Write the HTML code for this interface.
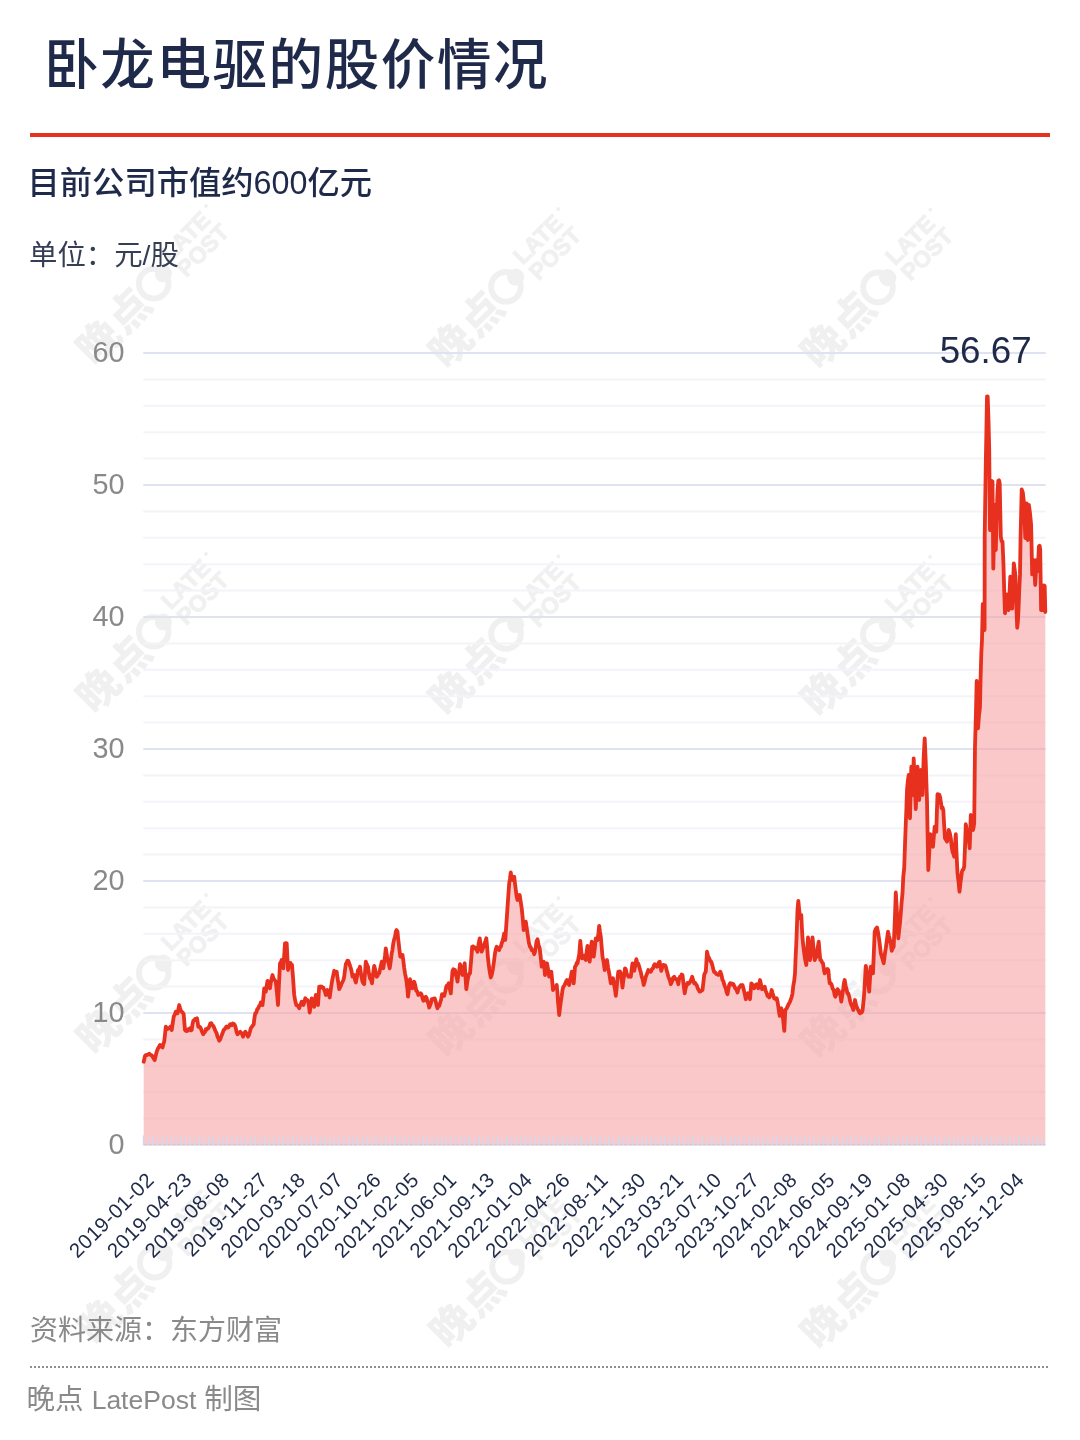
<!DOCTYPE html>
<html lang="zh-CN">
<head>
<meta charset="utf-8">
<title>卧龙电驱的股价情况</title>
<style>
html,body{margin:0;padding:0;background:#fff;}
body{width:1080px;height:1440px;position:relative;overflow:hidden;font-family:"Liberation Sans","Noto Sans CJK SC",sans-serif;}
.abs{position:absolute;white-space:nowrap;line-height:1;}
#title{left:44.2px;top:39px;font-size:54.5px;font-weight:500;color:#1f2a4a;letter-spacing:1.6px;}
#rule{left:30px;top:133px;width:1020px;height:4px;background:#e8301f;}
#sub{left:27.5px;top:167px;font-size:32.3px;font-weight:500;color:#1f2a4a;}
#unit{left:29px;top:241px;font-size:28.4px;color:#353e55;}
#src{left:30px;top:1317px;font-size:28px;color:#8a8a8a;}
#dots{left:30px;top:1366px;width:1020px;height:2px;background:repeating-linear-gradient(to right,#8e8e8e 0,#8e8e8e 2px,transparent 2px,transparent 4px);}
#credit{left:26.5px;top:1385px;font-size:28.6px;color:#8a8a8a;}
svg{position:absolute;left:0;top:0;}
svg text{font-family:"Liberation Sans","Noto Sans CJK SC",sans-serif;}
.yl{font-size:28.8px;fill:#898989;}
.xl{font-size:20.5px;fill:#1f2a4a;letter-spacing:0.5px;}
.vl{font-size:36.8px;fill:#1f2a4a;}
.wc{font-size:42px;font-weight:900;fill:#000;letter-spacing:1.5px;}
.wl{font-size:23px;font-weight:700;fill:#000;stroke:#000;stroke-width:1.2px;}
.lp{font-size:26.5px;}
#wm{opacity:0.055;}
</style>
</head>
<body>
<svg id="wm" width="1080" height="1440" viewBox="0 0 1080 1440">
<g transform="translate(153.7 283.6) rotate(-45)"><text transform="translate(-101 17)" class="wc">晚点</text><circle r="14.8" fill="none" stroke="#000" stroke-width="6"/><circle cx="13.7" cy="0" r="8.6" fill="#000"/><text x="27" y="-3" class="wl">LATE</text><circle cx="92" cy="-18" r="2" fill="#000"/><text x="27" y="19" class="wl">POST</text></g>
<g transform="translate(505.9 286.8) rotate(-45)"><text transform="translate(-101 17)" class="wc">晚点</text><circle r="14.8" fill="none" stroke="#000" stroke-width="6"/><circle cx="13.7" cy="0" r="8.6" fill="#000"/><text x="27" y="-3" class="wl">LATE</text><circle cx="92" cy="-18" r="2" fill="#000"/><text x="27" y="19" class="wl">POST</text></g>
<g transform="translate(878 287.4) rotate(-45)"><text transform="translate(-101 17)" class="wc">晚点</text><circle r="14.8" fill="none" stroke="#000" stroke-width="6"/><circle cx="13.7" cy="0" r="8.6" fill="#000"/><text x="27" y="-3" class="wl">LATE</text><circle cx="92" cy="-18" r="2" fill="#000"/><text x="27" y="19" class="wl">POST</text></g>
<g transform="translate(153.7 631.7) rotate(-45)"><text transform="translate(-101 17)" class="wc">晚点</text><circle r="14.8" fill="none" stroke="#000" stroke-width="6"/><circle cx="13.7" cy="0" r="8.6" fill="#000"/><text x="27" y="-3" class="wl">LATE</text><circle cx="92" cy="-18" r="2" fill="#000"/><text x="27" y="19" class="wl">POST</text></g>
<g transform="translate(506 634) rotate(-45)"><text transform="translate(-101 17)" class="wc">晚点</text><circle r="14.8" fill="none" stroke="#000" stroke-width="6"/><circle cx="13.7" cy="0" r="8.6" fill="#000"/><text x="27" y="-3" class="wl">LATE</text><circle cx="92" cy="-18" r="2" fill="#000"/><text x="27" y="19" class="wl">POST</text></g>
<g transform="translate(877.8 634.7) rotate(-45)"><text transform="translate(-101 17)" class="wc">晚点</text><circle r="14.8" fill="none" stroke="#000" stroke-width="6"/><circle cx="13.7" cy="0" r="8.6" fill="#000"/><text x="27" y="-3" class="wl">LATE</text><circle cx="92" cy="-18" r="2" fill="#000"/><text x="27" y="19" class="wl">POST</text></g>
<g transform="translate(153.7 972.9) rotate(-45)"><text transform="translate(-101 17)" class="wc">晚点</text><circle r="14.8" fill="none" stroke="#000" stroke-width="6"/><circle cx="13.7" cy="0" r="8.6" fill="#000"/><text x="27" y="-3" class="wl">LATE</text><circle cx="92" cy="-18" r="2" fill="#000"/><text x="27" y="19" class="wl">POST</text></g>
<g transform="translate(506 976) rotate(-45)"><text transform="translate(-101 17)" class="wc">晚点</text><circle r="14.8" fill="none" stroke="#000" stroke-width="6"/><circle cx="13.7" cy="0" r="8.6" fill="#000"/><text x="27" y="-3" class="wl">LATE</text><circle cx="92" cy="-18" r="2" fill="#000"/><text x="27" y="19" class="wl">POST</text></g>
<g transform="translate(878 977) rotate(-45)"><text transform="translate(-101 17)" class="wc">晚点</text><circle r="14.8" fill="none" stroke="#000" stroke-width="6"/><circle cx="13.7" cy="0" r="8.6" fill="#000"/><text x="27" y="-3" class="wl">LATE</text><circle cx="92" cy="-18" r="2" fill="#000"/><text x="27" y="19" class="wl">POST</text></g>
<g transform="translate(154.7 1262.7) rotate(-45)"><text transform="translate(-101 17)" class="wc">晚点</text><circle r="14.8" fill="none" stroke="#000" stroke-width="6"/><circle cx="13.7" cy="0" r="8.6" fill="#000"/><text x="27" y="-3" class="wl">LATE</text><circle cx="92" cy="-18" r="2" fill="#000"/><text x="27" y="19" class="wl">POST</text></g>
<g transform="translate(507 1266.8) rotate(-45)"><text transform="translate(-101 17)" class="wc">晚点</text><circle r="14.8" fill="none" stroke="#000" stroke-width="6"/><circle cx="13.7" cy="0" r="8.6" fill="#000"/><text x="27" y="-3" class="wl">LATE</text><circle cx="92" cy="-18" r="2" fill="#000"/><text x="27" y="19" class="wl">POST</text></g>
<g transform="translate(878 1267.5) rotate(-45)"><text transform="translate(-101 17)" class="wc">晚点</text><circle r="14.8" fill="none" stroke="#000" stroke-width="6"/><circle cx="13.7" cy="0" r="8.6" fill="#000"/><text x="27" y="-3" class="wl">LATE</text><circle cx="92" cy="-18" r="2" fill="#000"/><text x="27" y="19" class="wl">POST</text></g>
</svg>
<div id="title" class="abs">卧龙电驱的股价情况</div>
<div id="rule" class="abs"></div>
<div id="sub" class="abs">目前公司市值约600亿元</div>
<div id="unit" class="abs">单位：元/股</div>
<svg id="chart" width="1080" height="1440" viewBox="0 0 1080 1440">
<line x1="143.3" x2="1045.7" y1="1145" y2="1145" stroke="#dee2f1" stroke-width="2"/>
<line x1="143.3" x2="1045.7" y1="1118.6" y2="1118.6" stroke="#f3f4fa" stroke-width="2"/>
<line x1="143.3" x2="1045.7" y1="1092.2" y2="1092.2" stroke="#f3f4fa" stroke-width="2"/>
<line x1="143.3" x2="1045.7" y1="1065.8" y2="1065.8" stroke="#f3f4fa" stroke-width="2"/>
<line x1="143.3" x2="1045.7" y1="1039.4" y2="1039.4" stroke="#f3f4fa" stroke-width="2"/>
<line x1="143.3" x2="1045.7" y1="1013" y2="1013" stroke="#dee2f1" stroke-width="2"/>
<line x1="143.3" x2="1045.7" y1="986.6" y2="986.6" stroke="#f3f4fa" stroke-width="2"/>
<line x1="143.3" x2="1045.7" y1="960.2" y2="960.2" stroke="#f3f4fa" stroke-width="2"/>
<line x1="143.3" x2="1045.7" y1="933.8" y2="933.8" stroke="#f3f4fa" stroke-width="2"/>
<line x1="143.3" x2="1045.7" y1="907.4" y2="907.4" stroke="#f3f4fa" stroke-width="2"/>
<line x1="143.3" x2="1045.7" y1="881" y2="881" stroke="#dee2f1" stroke-width="2"/>
<line x1="143.3" x2="1045.7" y1="854.6" y2="854.6" stroke="#f3f4fa" stroke-width="2"/>
<line x1="143.3" x2="1045.7" y1="828.2" y2="828.2" stroke="#f3f4fa" stroke-width="2"/>
<line x1="143.3" x2="1045.7" y1="801.8" y2="801.8" stroke="#f3f4fa" stroke-width="2"/>
<line x1="143.3" x2="1045.7" y1="775.4" y2="775.4" stroke="#f3f4fa" stroke-width="2"/>
<line x1="143.3" x2="1045.7" y1="749" y2="749" stroke="#dee2f1" stroke-width="2"/>
<line x1="143.3" x2="1045.7" y1="722.6" y2="722.6" stroke="#f3f4fa" stroke-width="2"/>
<line x1="143.3" x2="1045.7" y1="696.2" y2="696.2" stroke="#f3f4fa" stroke-width="2"/>
<line x1="143.3" x2="1045.7" y1="669.8" y2="669.8" stroke="#f3f4fa" stroke-width="2"/>
<line x1="143.3" x2="1045.7" y1="643.4" y2="643.4" stroke="#f3f4fa" stroke-width="2"/>
<line x1="143.3" x2="1045.7" y1="617" y2="617" stroke="#dee2f1" stroke-width="2"/>
<line x1="143.3" x2="1045.7" y1="590.6" y2="590.6" stroke="#f3f4fa" stroke-width="2"/>
<line x1="143.3" x2="1045.7" y1="564.2" y2="564.2" stroke="#f3f4fa" stroke-width="2"/>
<line x1="143.3" x2="1045.7" y1="537.8" y2="537.8" stroke="#f3f4fa" stroke-width="2"/>
<line x1="143.3" x2="1045.7" y1="511.4" y2="511.4" stroke="#f3f4fa" stroke-width="2"/>
<line x1="143.3" x2="1045.7" y1="485" y2="485" stroke="#dee2f1" stroke-width="2"/>
<line x1="143.3" x2="1045.7" y1="458.6" y2="458.6" stroke="#f3f4fa" stroke-width="2"/>
<line x1="143.3" x2="1045.7" y1="432.2" y2="432.2" stroke="#f3f4fa" stroke-width="2"/>
<line x1="143.3" x2="1045.7" y1="405.8" y2="405.8" stroke="#f3f4fa" stroke-width="2"/>
<line x1="143.3" x2="1045.7" y1="379.4" y2="379.4" stroke="#f3f4fa" stroke-width="2"/>
<line x1="143.3" x2="1045.7" y1="353" y2="353" stroke="#dee2f1" stroke-width="2"/>
<text x="124.5" y="1154" text-anchor="end" class="yl">0</text>
<text x="124.5" y="1022" text-anchor="end" class="yl">10</text>
<text x="124.5" y="890" text-anchor="end" class="yl">20</text>
<text x="124.5" y="758" text-anchor="end" class="yl">30</text>
<text x="124.5" y="626" text-anchor="end" class="yl">40</text>
<text x="124.5" y="494" text-anchor="end" class="yl">50</text>
<text x="124.5" y="362" text-anchor="end" class="yl">60</text>
<path d="M143.7 1061.7 L144.3 1059.1 L145 1055.8 L146.1 1054.8 L147.2 1055.1 L148.3 1054.2 L149.4 1053.7 L150.6 1055 L151.7 1055.3 L152.7 1056.8 L153.7 1058.7 L154.7 1060 L155.7 1055.6 L156.7 1051.7 L157.8 1048.9 L158.9 1046.9 L160 1045 L160.8 1046.6 L161.7 1045.9 L162.5 1047.5 L163.3 1044.1 L164.2 1041.7 L165 1034.6 L165.8 1026.7 L166.6 1028 L167.5 1029 L168.3 1028.3 L169.3 1028.2 L170.3 1026.7 L171 1028.3 L171.7 1030 L172.7 1023.4 L173.7 1016.7 L174.8 1014.5 L175.8 1011.7 L176.7 1011.8 L177.5 1013.3 L178.3 1009.7 L179.2 1005 L180 1007.8 L180.9 1010.7 L181.7 1011.7 L182.7 1012.5 L183.7 1014.2 L184.3 1022 L185 1030 L185.8 1030.8 L186.7 1031.1 L187.5 1030.8 L188.3 1029.2 L189.2 1029.2 L190 1028.3 L190.9 1030.4 L191.7 1030 L192.5 1024.3 L193.3 1020.8 L194.2 1020.4 L195.2 1018.9 L196.1 1019.1 L197 1018.3 L197.7 1022.5 L198.3 1026.7 L199.1 1027 L200 1027 L200.8 1028.3 L201.6 1030.6 L202.5 1032.8 L203.3 1034.2 L204.1 1032.1 L205 1032 L205.8 1029.2 L206.6 1029.7 L207.5 1028.3 L208.3 1028.3 L209.3 1026.3 L210.3 1023.3 L211.3 1023.2 L212.3 1025.2 L213.3 1025.8 L214.4 1028.4 L215.6 1031.3 L216.7 1033.3 L217.5 1036.8 L218.4 1038.1 L219.2 1040.8 L220.3 1039.1 L221.4 1036.1 L222.5 1033.3 L223.6 1030.2 L224.7 1029.1 L225.8 1027.5 L226.6 1026.5 L227.5 1027.7 L228.3 1027.5 L229.1 1026.1 L230 1024.4 L230.8 1024.2 L231.8 1025.2 L232.8 1023.5 L233.7 1023.8 L234.7 1025 L235.6 1027.3 L236.6 1032.1 L237.5 1034.2 L238.4 1033.5 L239.4 1032.5 L240.3 1031.7 L241.2 1033.1 L242.1 1034.1 L243 1036.7 L243.8 1034.9 L244.5 1032.9 L245.3 1031.7 L246.2 1033.1 L247.1 1034.1 L248 1036.7 L248.9 1035 L249.9 1031.8 L250.8 1028.3 L251.8 1026.8 L252.7 1025.7 L253.7 1024.2 L254.5 1017.5 L255.3 1013.3 L256.3 1012.8 L257.3 1009.1 L258.3 1008.3 L259.1 1006 L260 1005.1 L260.8 1002.5 L261.6 1004.3 L262.5 1005 L263.4 997.6 L264.2 988.3 L265 989.1 L265.8 991.7 L266.6 986.8 L267.5 980.8 L268.3 982 L269.2 987.2 L270 988.3 L270.8 982.5 L271.7 978.5 L272.5 975 L273.6 978.7 L274.7 980 L275.8 981.7 L276.9 992.1 L278 1005 L279 983.4 L280 963.3 L280.9 962.1 L281.7 960 L282.5 963.1 L283.3 968.3 L284.1 957 L285 943.3 L285.9 943.1 L286.7 943.3 L287.4 957.7 L288 970 L288.9 966.6 L289.7 963.3 L290.5 962.9 L291.2 965.3 L292 965 L293.1 978.6 L294.2 995 L295.2 1000.8 L296.3 1005 L297.3 1005.6 L298.2 1006.2 L299.2 1008.3 L300 1005.4 L300.9 1003.8 L301.7 1001.7 L302.5 1002.7 L303.3 1005 L304.3 1002.3 L305.3 998.3 L306.3 1000 L307.3 1000 L308.3 1001.7 L309 1006.3 L309.7 1012.5 L310.7 1005.9 L311.7 998.3 L312.5 1001.4 L313.4 1004.9 L314.2 1006.7 L315 1000.1 L315.8 995 L316.9 999 L318 1005 L318.6 996 L319.2 986.7 L320 988.1 L320.9 986.5 L321.7 986.7 L322.5 987.5 L323.4 987.7 L324.2 990 L325 991.9 L325.8 995 L326.6 993.1 L327.5 990 L328.6 993 L329.7 997.5 L330.7 990 L331.7 983.3 L332.5 978.9 L333.4 974.6 L334.2 970.8 L335 971.9 L335.9 972.6 L336.7 971.7 L337.5 977.9 L338.4 983.3 L339.2 989.2 L340 987.4 L340.9 985.6 L341.7 983.3 L342.5 981.8 L343.4 980 L344.2 976.7 L345 970.2 L345.8 964.2 L346.6 962.6 L347.5 960.6 L348.3 960.8 L349.1 963.1 L350 965.7 L350.8 968.3 L351.6 971.5 L352.5 976.7 L353.4 976.3 L354.2 975 L355 980 L355.8 982.5 L356.9 977.1 L358 970 L359 969.7 L360 966.7 L360.8 972.9 L361.7 977.9 L362.5 981.7 L363.4 983.4 L364.2 984.2 L365 972.9 L365.8 961.7 L366.9 964.6 L368 966.7 L369 973.9 L370 978.3 L371 979.5 L372 983.3 L373.1 973.2 L374.2 965.8 L375 968.9 L375.9 973.4 L376.7 976.7 L377.5 976 L378.4 973.3 L379.2 973.3 L380 969.7 L380.9 965.8 L381.7 961.7 L382.5 965.6 L383.3 968.3 L384.1 962.8 L385 956 L385.8 948.3 L386.6 953.5 L387.5 960 L388.6 963 L389.7 968.3 L390.7 961.5 L391.7 953.3 L392.5 949.6 L393.3 943.3 L394.1 939.7 L395 936.9 L395.8 931.7 L396.6 930.1 L397.5 931.7 L398.1 938.3 L398.7 943.3 L399.5 950.4 L400.3 956.7 L401.4 956.9 L402.5 955 L403.3 960.6 L404.2 968.1 L405 973.3 L405.9 977.6 L406.7 983.3 L407.4 988.7 L408 996.7 L409 989 L410 979.2 L410.8 982.7 L411.7 986.1 L412.5 988.3 L413.4 983.9 L414.2 981.7 L415.2 985 L416.3 990.8 L417.3 991.6 L418.3 995 L419.1 993.8 L420 994.2 L420.8 993.3 L421.6 994.6 L422.5 998.2 L423.3 1000.8 L424.1 1000.5 L425 997.4 L425.8 996.7 L426.6 998 L427.5 1001.7 L428.4 1003.6 L429.2 1007.5 L430 1005.5 L430.9 1003.1 L431.7 999.2 L432.7 999.8 L433.7 998.5 L434.7 998.3 L435.6 1001 L436.6 1005.7 L437.5 1008.3 L438.3 1005.7 L439.2 1005.9 L440 1003.3 L441 1000 L442 994.2 L443.1 994.7 L444.2 995.8 L445.2 991.9 L446.3 986.7 L447.1 985.3 L447.9 985.2 L448.7 983.3 L449.8 988.8 L450.8 993.3 L451.6 981.9 L452.5 970.8 L453.3 969.3 L454.2 971.5 L455 970 L455.8 974.9 L456.7 977.2 L457.5 981.7 L458.3 975.1 L459.2 970.9 L460 964.2 L460.8 967.5 L461.7 971.8 L462.5 975 L463.6 968.1 L464.7 963.3 L465.5 977.5 L466.3 989.2 L467.3 981.9 L468.3 976.7 L469.1 973.9 L470 973.3 L471.1 960.7 L472.2 946.7 L473.1 946.4 L474.1 948.3 L475 947.5 L475.8 948.8 L476.7 949.7 L477.5 951.7 L478.6 943.9 L479.7 938.3 L480.7 945.7 L481.7 951.7 L482.7 948.8 L483.7 946.7 L484.6 943.3 L485.4 941.6 L486.3 938.3 L487.1 946.8 L488 958.3 L488.9 966.1 L489.7 971.7 L490.8 977.5 L491.9 974.1 L493 968.3 L494 961.2 L495 953.3 L495.9 948.9 L496.7 946.7 L497.5 948.7 L498.4 948 L499.2 950 L500 947.1 L500.9 946.6 L501.7 943.3 L502.5 941.2 L503.4 937.4 L504.2 933.3 L505.3 940 L506.1 927.8 L507 915 L508.1 898.8 L509.2 883.3 L510 878.5 L510.8 872.5 L511.6 877.9 L512.5 880 L513.4 877.6 L514.2 876.7 L515 883.6 L515.8 890 L516.6 896.2 L517.5 900 L518.6 898.4 L519.7 895 L520.7 901.7 L521.7 908.3 L522.7 918.1 L523.7 930 L524.8 926.6 L525.8 921.7 L526.9 929.2 L528 936.7 L529 943.2 L530 946.7 L530.8 947.4 L531.7 950.3 L532.5 950 L533.4 951.3 L534.2 954.2 L535 951.7 L535.8 946.7 L536.6 941.4 L537.5 939.2 L538.6 945.2 L539.7 948.3 L540.7 957.3 L541.7 966.7 L542.7 962.9 L543.7 961.7 L544.4 968.1 L545 975 L546 968 L547 963.3 L548.1 969.4 L549.2 976.7 L550.2 973 L551.3 971.7 L552.1 979.7 L553 990 L554 987.3 L555 986.7 L555.9 986.4 L556.7 985 L557.4 992.1 L558 1001.7 L558.6 1007.8 L559.2 1015 L560 1008.1 L560.8 1001.7 L561.6 996.7 L562.5 990 L563.3 986.7 L564.2 985.7 L565 984.2 L566 981.6 L567 980 L568.1 982.9 L569.2 985 L570 979.7 L570.9 976.7 L571.7 971.7 L572.7 977.6 L573.7 983.3 L574.4 975.1 L575 966.7 L575.8 965.8 L576.7 963 L577.5 963.3 L578.4 958.5 L579.2 955 L580.3 940.8 L581.1 949.6 L582 958.3 L583.1 957 L584.2 955.8 L585 958.9 L585.8 960 L586.6 952.2 L587.5 945.8 L588.6 955.1 L589.7 961.7 L590.7 950.7 L591.7 941.7 L592.7 948.5 L593.7 956.7 L594.8 948.3 L595.8 938.3 L596.6 938.4 L597.5 940 L598.4 933.2 L599.2 925.8 L600 931.8 L600.8 936.7 L601.6 946.2 L602.5 956.7 L603.6 962.2 L604.7 970 L605.9 966.2 L607 960 L608.1 967.5 L609.2 973.3 L610 978.2 L610.8 983.3 L611.9 981.6 L613 978.3 L613.9 983.9 L614.9 988.8 L615.8 995.8 L616.6 988.6 L617.5 978.8 L618.3 971.7 L619.1 972.9 L620 971.4 L620.8 973.3 L621.6 979.7 L622.5 987.5 L623.3 980.7 L624.2 975.6 L625 968.3 L625.8 969.2 L626.7 973.6 L627.5 975 L628.6 976.8 L629.7 976.4 L630.8 976.7 L631.6 969.7 L632.5 963.3 L633.4 968.1 L634.2 970.8 L635.2 965.9 L636.3 959.2 L637.3 963.2 L638.2 963.6 L639.2 966.7 L640 969.6 L640.9 972.6 L641.7 976.7 L642.7 979.7 L643.7 985 L644.8 981.2 L645.8 976.7 L646.6 974.8 L647.5 972.5 L648.3 970 L649.1 971.6 L650 971 L650.8 971.7 L651.9 969.2 L653 968.3 L653.9 965.5 L654.7 964.2 L655.9 965.5 L657 966.7 L657.9 964.4 L658.8 962.6 L659.7 961.7 L660.5 966.8 L661.3 970.8 L662.3 967.2 L663.3 965 L664.1 965.1 L665 965.3 L665.8 966.7 L666.6 970.3 L667.5 973.1 L668.3 976.7 L669.1 978.5 L670 980.9 L670.8 984.2 L671.9 982 L673.1 977.9 L674.2 976.7 L675 978.5 L675.9 979.3 L676.7 979.2 L677.5 981.1 L678.3 984.2 L679.1 979.1 L680 976.7 L680.8 976.9 L681.7 974.5 L682.5 975 L683.6 984.9 L684.7 993.3 L685.7 987.8 L686.7 985 L687.5 983 L688.4 983.8 L689.2 983.3 L690.2 981.8 L691.2 979.6 L692.2 976.7 L693.2 980.5 L694.2 983.3 L695 982.7 L695.9 984.4 L696.7 985 L697.7 988.3 L698.7 990 L699.7 991.7 L700.6 991.5 L701.6 990.5 L702.5 990 L703.4 982.3 L704.2 975 L705 972.9 L705.8 971.7 L706.4 961.8 L707 951.7 L708.1 956.4 L709.2 958.3 L710.2 960.9 L711.3 961.7 L712.3 965.1 L713.3 969.2 L714.1 971.9 L715 972.3 L715.8 973.3 L716.6 974.2 L717.5 974.5 L718.3 975 L719.3 973.6 L720.3 971.7 L721.4 974.7 L722.5 980 L723.3 981.1 L724.2 984.5 L725 986.7 L725.8 988.4 L726.7 992.5 L727.5 994.2 L728.4 989.1 L729.2 985 L730.2 983.2 L731.3 983.3 L732.3 984.7 L733.2 984 L734.2 985.8 L735.3 988.4 L736.4 989.5 L737.5 992.5 L738.3 989.3 L739.2 987.2 L740 986.7 L740.8 985.2 L741.7 986.3 L742.5 985 L743.4 988.2 L744.2 991.7 L745 995.2 L745.8 999.2 L746.9 995.5 L748 993.3 L749 995.6 L750 999.2 L750.6 991.8 L751.3 983.3 L752.3 984.5 L753.2 985.4 L754.2 988.3 L755 986.2 L755.9 984.8 L756.7 984.2 L757.5 986.5 L758.3 988.3 L759.1 985.2 L760 980 L761 984.5 L762 989.2 L762.9 988.5 L763.8 988.2 L764.7 986.7 L765.7 991 L766.7 993.3 L767.5 995.9 L768.4 996.3 L769.2 997.5 L770 996.3 L770.9 993.2 L771.7 990 L772.5 993 L773.4 995.8 L774.2 998.3 L775 998.2 L775.9 999.4 L776.7 998.3 L777.5 1001.4 L778.3 1006.7 L779 1011.8 L779.7 1015.8 L780.5 1011 L781.3 1008.3 L782.1 1012.7 L783 1018.3 L783.6 1024.2 L784.3 1030.8 L785.3 1010 L786.4 1008.8 L787.5 1006.7 L788.3 1004.7 L789.2 1003.1 L790 1001.7 L790.8 999.5 L791.7 996.9 L792.5 993.3 L793.3 985.8 L794.2 980.9 L795 973.3 L795.6 957.5 L796.3 943.3 L796.9 927.3 L797.5 910 L798.3 900.8 L799.1 908.9 L800 918.3 L800.6 917.5 L801.3 915 L801.9 927.8 L802.5 938.3 L803.4 946.9 L804.2 953.3 L805.2 959.9 L806.3 965 L807.1 951.7 L808 937.5 L809 947.4 L810 960 L810.8 953.3 L811.7 944.1 L812.5 937.5 L813.6 949.2 L814.7 960 L815.7 957.2 L816.7 956.7 L817.7 947.7 L818.7 941.7 L819.5 951.7 L820.3 960 L821.2 960.3 L822.1 962.4 L823 963.3 L823.9 969.6 L824.7 973.3 L825.5 970.5 L826.3 970 L827.3 968.9 L828.3 970 L829 977.5 L829.7 983.3 L830.7 983.1 L831.7 985 L832.7 988.8 L833.7 990 L834.5 994.5 L835.3 996.7 L836.4 994 L837.5 989.2 L838.6 990.6 L839.7 993.3 L840.5 996.2 L841.3 1001.7 L842.3 994.9 L843.3 988.3 L844 982.8 L844.7 980 L845.7 985.9 L846.7 990 L847.5 993.6 L848.4 993.6 L849.2 996.7 L850.2 1001.5 L851.3 1005 L852.3 1006.8 L853.3 1010 L854.1 1005.4 L855 1000 L856 1004.9 L857 1007.5 L858 1009.8 L859 1012.1 L860 1013.3 L860.8 1011.4 L861.7 1012.6 L862.5 1010.8 L863.4 1002.6 L864.2 993.3 L865 979.7 L865.8 965.8 L866.6 970.2 L867.5 976.7 L868.4 984.2 L869.2 991.7 L870 978.8 L870.8 966.7 L871.9 970 L873 973.3 L873.9 951.7 L874.7 931.7 L875.9 928.8 L877 927.5 L878.1 932.7 L879.2 940 L880 946.3 L880.8 953.3 L881.8 956.6 L882.7 959.5 L883.7 963.3 L884.8 954.4 L885.8 948.3 L886.9 940.3 L888 931.7 L889 936.1 L890 940 L890.9 944 L891.7 950.8 L892.7 948.3 L893.7 946.7 L894.8 920.8 L895.8 892.5 L896.6 906.2 L897.5 922.3 L898.3 938.3 L899.1 930.6 L900 923.1 L900.8 913.3 L901.6 902.5 L902.5 893.3 L903.3 876.7 L904.2 868.3 L905 844.7 L905.8 823.3 L906.4 808.6 L907 790 L907.9 780.5 L908.7 775 L909.4 796.7 L910 818.3 L910.6 794.1 L911.3 766.7 L912.1 781.9 L913 795 L913.7 758.3 L914.8 785.6 L915.8 809.2 L916.6 788.2 L917.5 766.7 L918.4 784.2 L919.2 800 L920 782.8 L920.8 770 L921.6 780.8 L922.5 795 L923.1 775.9 L923.7 756.7 L924.7 738.3 L925.8 763.3 L926.4 783.1 L927 800 L927.6 834.9 L928.3 870 L929.3 851.6 L930.3 834.2 L931.2 838.7 L932.1 844.3 L933 846.7 L933.9 835.4 L934.7 826.7 L935.5 828.6 L936.3 831.7 L936.9 811.5 L937.5 794.2 L938.3 796.8 L939.2 794.6 L940 796.7 L940.9 802.3 L941.7 808.3 L942.5 807.3 L943.3 810 L944.1 824.3 L945 838.3 L946 839.9 L947 841.7 L947.9 837 L948.7 830 L949.8 833.1 L950.8 838.3 L951.6 846.1 L952.5 851.7 L953.4 853.9 L954.2 856.7 L955 845 L955.8 834.2 L956.6 855.1 L957.5 873.3 L958.5 881.8 L959.5 891.7 L960.4 883.3 L961.3 876.7 L961.9 871.8 L962.5 870 L963.4 869.6 L964.2 866.7 L965 847 L965.8 824.2 L966.6 829.1 L967.5 831.7 L968.6 838.3 L969.7 848.3 L970.8 815 L971.9 822.4 L973 830 L973.6 827.6 L974.2 823.3 L975 746.7 L975.9 714.5 L976.7 680.8 L977.4 706.3 L978 728.3 L979 715.5 L980 706.7 L980.6 677.8 L981.3 653.3 L982 640 L982.8 604 L983.7 619.5 L984.6 630 L984.7 536 L985.8 463 L986.4 430.9 L987 396.5 L987.7 396.5 L988.5 420.6 L989.2 448 L990 530 L990.6 508.9 L991.3 481.7 L991.9 481.1 L992.5 481.7 L993.3 568.5 L994 535.9 L994.7 505 L995.8 550 L996.4 527.2 L997 505 L997.6 489.9 L998.3 480.8 L999 480.3 L999.7 483.3 L1000.8 536.7 L1001.6 541.1 L1002.5 541.7 L1003.5 565 L1004.2 591.2 L1005 613.3 L1006 605.4 L1007 594.5 L1007.8 604.8 L1008.6 610 L1009.5 593.8 L1010.3 576.7 L1011.2 592.2 L1012.1 608.6 L1013 588.2 L1013.8 563.3 L1014.6 569.1 L1015.4 575.5 L1016.3 604.5 L1017.2 627.8 L1017.9 621.3 L1018.5 610 L1019.2 591.3 L1020 574.4 L1020.6 535.6 L1021.7 489.4 L1022.8 492.5 L1023.9 502 L1024.6 520.5 L1025.3 538 L1026 520.6 L1026.7 503.3 L1027.8 540 L1028.9 505 L1030 513.2 L1031.1 524.4 L1032.2 574.4 L1033.1 564.4 L1033.9 560 L1034.6 573.4 L1035.2 585 L1036 572 L1036.7 560 L1037.8 571 L1038.9 546.7 L1039.6 545.7 L1040.2 549 L1041.1 610 L1041.9 610 L1042.8 610 L1043.3 585.6 L1044 585.4 L1044.7 586 L1045.3 612 L1045.3 1145 L143.7 1145 Z" fill="rgba(247,163,163,0.6)" stroke="none"/>
<path d="M143.6 1145 v-9.5 M148.2 1145 v-6.7 M152.9 1145 v-9.5 M157.5 1145 v-6.7 M162.2 1145 v-9.5 M166.8 1145 v-6.7 M171.5 1145 v-9.5 M176.2 1145 v-6.7 M180.8 1145 v-9.5 M185.5 1145 v-6.7 M190.1 1145 v-9.5 M194.8 1145 v-6.7 M199.4 1145 v-9.5 M204.1 1145 v-6.7 M208.8 1145 v-9.5 M213.4 1145 v-6.7 M218.1 1145 v-9.5 M222.7 1145 v-6.7 M227.4 1145 v-9.5 M232 1145 v-6.7 M236.7 1145 v-9.5 M241.4 1145 v-6.7 M246 1145 v-9.5 M250.7 1145 v-6.7 M255.3 1145 v-9.5 M260 1145 v-6.7 M264.6 1145 v-9.5 M269.3 1145 v-6.7 M274 1145 v-9.5 M278.6 1145 v-6.7 M283.3 1145 v-9.5 M287.9 1145 v-6.7 M292.6 1145 v-9.5 M297.2 1145 v-6.7 M301.9 1145 v-9.5 M306.5 1145 v-6.7 M311.2 1145 v-9.5 M315.9 1145 v-6.7 M320.5 1145 v-9.5 M325.2 1145 v-6.7 M329.8 1145 v-9.5 M334.5 1145 v-6.7 M339.1 1145 v-9.5 M343.8 1145 v-6.7 M348.5 1145 v-9.5 M353.1 1145 v-6.7 M357.8 1145 v-9.5 M362.4 1145 v-6.7 M367.1 1145 v-9.5 M371.7 1145 v-6.7 M376.4 1145 v-9.5 M381.1 1145 v-6.7 M385.7 1145 v-9.5 M390.4 1145 v-6.7 M395 1145 v-9.5 M399.7 1145 v-6.7 M404.3 1145 v-9.5 M409 1145 v-6.7 M413.7 1145 v-9.5 M418.3 1145 v-6.7 M423 1145 v-9.5 M427.6 1145 v-6.7 M432.3 1145 v-9.5 M436.9 1145 v-6.7 M441.6 1145 v-9.5 M446.3 1145 v-6.7 M450.9 1145 v-9.5 M455.6 1145 v-6.7 M460.2 1145 v-9.5 M464.9 1145 v-6.7 M469.5 1145 v-9.5 M474.2 1145 v-6.7 M478.8 1145 v-9.5 M483.5 1145 v-6.7 M488.2 1145 v-9.5 M492.8 1145 v-6.7 M497.5 1145 v-9.5 M502.1 1145 v-6.7 M506.8 1145 v-9.5 M511.4 1145 v-6.7 M516.1 1145 v-9.5 M520.8 1145 v-6.7 M525.4 1145 v-9.5 M530.1 1145 v-6.7 M534.7 1145 v-9.5 M539.4 1145 v-6.7 M544 1145 v-9.5 M548.7 1145 v-6.7 M553.4 1145 v-9.5 M558 1145 v-6.7 M562.7 1145 v-9.5 M567.3 1145 v-6.7 M572 1145 v-9.5 M576.6 1145 v-6.7 M581.3 1145 v-9.5 M586 1145 v-6.7 M590.6 1145 v-9.5 M595.3 1145 v-6.7 M599.9 1145 v-9.5 M604.6 1145 v-6.7 M609.2 1145 v-9.5 M613.9 1145 v-6.7 M618.6 1145 v-9.5 M623.2 1145 v-6.7 M627.9 1145 v-9.5 M632.5 1145 v-6.7 M637.2 1145 v-9.5 M641.8 1145 v-6.7 M646.5 1145 v-9.5 M651.2 1145 v-6.7 M655.8 1145 v-9.5 M660.5 1145 v-6.7 M665.1 1145 v-9.5 M669.8 1145 v-6.7 M674.4 1145 v-9.5 M679.1 1145 v-6.7 M683.7 1145 v-9.5 M688.4 1145 v-6.7 M693.1 1145 v-9.5 M697.7 1145 v-6.7 M702.4 1145 v-9.5 M707 1145 v-6.7 M711.7 1145 v-9.5 M716.3 1145 v-6.7 M721 1145 v-9.5 M725.7 1145 v-6.7 M730.3 1145 v-9.5 M735 1145 v-6.7 M739.6 1145 v-9.5 M744.3 1145 v-6.7 M748.9 1145 v-9.5 M753.6 1145 v-6.7 M758.3 1145 v-9.5 M762.9 1145 v-6.7 M767.6 1145 v-9.5 M772.2 1145 v-6.7 M776.9 1145 v-9.5 M781.5 1145 v-6.7 M786.2 1145 v-9.5 M790.9 1145 v-6.7 M795.5 1145 v-9.5 M800.2 1145 v-6.7 M804.8 1145 v-9.5 M809.5 1145 v-6.7 M814.1 1145 v-9.5 M818.8 1145 v-6.7 M823.5 1145 v-9.5 M828.1 1145 v-6.7 M832.8 1145 v-9.5 M837.4 1145 v-6.7 M842.1 1145 v-9.5 M846.7 1145 v-6.7 M851.4 1145 v-9.5 M856.1 1145 v-6.7 M860.7 1145 v-9.5 M865.4 1145 v-6.7 M870 1145 v-9.5 M874.7 1145 v-6.7 M879.3 1145 v-9.5 M884 1145 v-6.7 M888.6 1145 v-9.5 M893.3 1145 v-6.7 M898 1145 v-9.5 M902.6 1145 v-6.7 M907.3 1145 v-9.5 M911.9 1145 v-6.7 M916.6 1145 v-9.5 M921.2 1145 v-6.7 M925.9 1145 v-9.5 M930.6 1145 v-6.7 M935.2 1145 v-9.5 M939.9 1145 v-6.7 M944.5 1145 v-9.5 M949.2 1145 v-6.7 M953.8 1145 v-9.5 M958.5 1145 v-6.7 M963.2 1145 v-9.5 M967.8 1145 v-6.7 M972.5 1145 v-9.5 M977.1 1145 v-6.7 M981.8 1145 v-9.5 M986.4 1145 v-6.7 M991.1 1145 v-9.5 M995.8 1145 v-6.7 M1000.4 1145 v-9.5 M1005.1 1145 v-6.7 M1009.7 1145 v-9.5 M1014.4 1145 v-6.7 M1019 1145 v-9.5 M1023.7 1145 v-6.7 M1028.4 1145 v-9.5 M1033 1145 v-6.7 M1037.7 1145 v-9.5 M1042.3 1145 v-6.7" stroke="#d4d8ec" stroke-width="1.6" fill="none"/>
<path d="M143.7 1061.7 L144.3 1059.1 L145 1055.8 L146.1 1054.8 L147.2 1055.1 L148.3 1054.2 L149.4 1053.7 L150.6 1055 L151.7 1055.3 L152.7 1056.8 L153.7 1058.7 L154.7 1060 L155.7 1055.6 L156.7 1051.7 L157.8 1048.9 L158.9 1046.9 L160 1045 L160.8 1046.6 L161.7 1045.9 L162.5 1047.5 L163.3 1044.1 L164.2 1041.7 L165 1034.6 L165.8 1026.7 L166.6 1028 L167.5 1029 L168.3 1028.3 L169.3 1028.2 L170.3 1026.7 L171 1028.3 L171.7 1030 L172.7 1023.4 L173.7 1016.7 L174.8 1014.5 L175.8 1011.7 L176.7 1011.8 L177.5 1013.3 L178.3 1009.7 L179.2 1005 L180 1007.8 L180.9 1010.7 L181.7 1011.7 L182.7 1012.5 L183.7 1014.2 L184.3 1022 L185 1030 L185.8 1030.8 L186.7 1031.1 L187.5 1030.8 L188.3 1029.2 L189.2 1029.2 L190 1028.3 L190.9 1030.4 L191.7 1030 L192.5 1024.3 L193.3 1020.8 L194.2 1020.4 L195.2 1018.9 L196.1 1019.1 L197 1018.3 L197.7 1022.5 L198.3 1026.7 L199.1 1027 L200 1027 L200.8 1028.3 L201.6 1030.6 L202.5 1032.8 L203.3 1034.2 L204.1 1032.1 L205 1032 L205.8 1029.2 L206.6 1029.7 L207.5 1028.3 L208.3 1028.3 L209.3 1026.3 L210.3 1023.3 L211.3 1023.2 L212.3 1025.2 L213.3 1025.8 L214.4 1028.4 L215.6 1031.3 L216.7 1033.3 L217.5 1036.8 L218.4 1038.1 L219.2 1040.8 L220.3 1039.1 L221.4 1036.1 L222.5 1033.3 L223.6 1030.2 L224.7 1029.1 L225.8 1027.5 L226.6 1026.5 L227.5 1027.7 L228.3 1027.5 L229.1 1026.1 L230 1024.4 L230.8 1024.2 L231.8 1025.2 L232.8 1023.5 L233.7 1023.8 L234.7 1025 L235.6 1027.3 L236.6 1032.1 L237.5 1034.2 L238.4 1033.5 L239.4 1032.5 L240.3 1031.7 L241.2 1033.1 L242.1 1034.1 L243 1036.7 L243.8 1034.9 L244.5 1032.9 L245.3 1031.7 L246.2 1033.1 L247.1 1034.1 L248 1036.7 L248.9 1035 L249.9 1031.8 L250.8 1028.3 L251.8 1026.8 L252.7 1025.7 L253.7 1024.2 L254.5 1017.5 L255.3 1013.3 L256.3 1012.8 L257.3 1009.1 L258.3 1008.3 L259.1 1006 L260 1005.1 L260.8 1002.5 L261.6 1004.3 L262.5 1005 L263.4 997.6 L264.2 988.3 L265 989.1 L265.8 991.7 L266.6 986.8 L267.5 980.8 L268.3 982 L269.2 987.2 L270 988.3 L270.8 982.5 L271.7 978.5 L272.5 975 L273.6 978.7 L274.7 980 L275.8 981.7 L276.9 992.1 L278 1005 L279 983.4 L280 963.3 L280.9 962.1 L281.7 960 L282.5 963.1 L283.3 968.3 L284.1 957 L285 943.3 L285.9 943.1 L286.7 943.3 L287.4 957.7 L288 970 L288.9 966.6 L289.7 963.3 L290.5 962.9 L291.2 965.3 L292 965 L293.1 978.6 L294.2 995 L295.2 1000.8 L296.3 1005 L297.3 1005.6 L298.2 1006.2 L299.2 1008.3 L300 1005.4 L300.9 1003.8 L301.7 1001.7 L302.5 1002.7 L303.3 1005 L304.3 1002.3 L305.3 998.3 L306.3 1000 L307.3 1000 L308.3 1001.7 L309 1006.3 L309.7 1012.5 L310.7 1005.9 L311.7 998.3 L312.5 1001.4 L313.4 1004.9 L314.2 1006.7 L315 1000.1 L315.8 995 L316.9 999 L318 1005 L318.6 996 L319.2 986.7 L320 988.1 L320.9 986.5 L321.7 986.7 L322.5 987.5 L323.4 987.7 L324.2 990 L325 991.9 L325.8 995 L326.6 993.1 L327.5 990 L328.6 993 L329.7 997.5 L330.7 990 L331.7 983.3 L332.5 978.9 L333.4 974.6 L334.2 970.8 L335 971.9 L335.9 972.6 L336.7 971.7 L337.5 977.9 L338.4 983.3 L339.2 989.2 L340 987.4 L340.9 985.6 L341.7 983.3 L342.5 981.8 L343.4 980 L344.2 976.7 L345 970.2 L345.8 964.2 L346.6 962.6 L347.5 960.6 L348.3 960.8 L349.1 963.1 L350 965.7 L350.8 968.3 L351.6 971.5 L352.5 976.7 L353.4 976.3 L354.2 975 L355 980 L355.8 982.5 L356.9 977.1 L358 970 L359 969.7 L360 966.7 L360.8 972.9 L361.7 977.9 L362.5 981.7 L363.4 983.4 L364.2 984.2 L365 972.9 L365.8 961.7 L366.9 964.6 L368 966.7 L369 973.9 L370 978.3 L371 979.5 L372 983.3 L373.1 973.2 L374.2 965.8 L375 968.9 L375.9 973.4 L376.7 976.7 L377.5 976 L378.4 973.3 L379.2 973.3 L380 969.7 L380.9 965.8 L381.7 961.7 L382.5 965.6 L383.3 968.3 L384.1 962.8 L385 956 L385.8 948.3 L386.6 953.5 L387.5 960 L388.6 963 L389.7 968.3 L390.7 961.5 L391.7 953.3 L392.5 949.6 L393.3 943.3 L394.1 939.7 L395 936.9 L395.8 931.7 L396.6 930.1 L397.5 931.7 L398.1 938.3 L398.7 943.3 L399.5 950.4 L400.3 956.7 L401.4 956.9 L402.5 955 L403.3 960.6 L404.2 968.1 L405 973.3 L405.9 977.6 L406.7 983.3 L407.4 988.7 L408 996.7 L409 989 L410 979.2 L410.8 982.7 L411.7 986.1 L412.5 988.3 L413.4 983.9 L414.2 981.7 L415.2 985 L416.3 990.8 L417.3 991.6 L418.3 995 L419.1 993.8 L420 994.2 L420.8 993.3 L421.6 994.6 L422.5 998.2 L423.3 1000.8 L424.1 1000.5 L425 997.4 L425.8 996.7 L426.6 998 L427.5 1001.7 L428.4 1003.6 L429.2 1007.5 L430 1005.5 L430.9 1003.1 L431.7 999.2 L432.7 999.8 L433.7 998.5 L434.7 998.3 L435.6 1001 L436.6 1005.7 L437.5 1008.3 L438.3 1005.7 L439.2 1005.9 L440 1003.3 L441 1000 L442 994.2 L443.1 994.7 L444.2 995.8 L445.2 991.9 L446.3 986.7 L447.1 985.3 L447.9 985.2 L448.7 983.3 L449.8 988.8 L450.8 993.3 L451.6 981.9 L452.5 970.8 L453.3 969.3 L454.2 971.5 L455 970 L455.8 974.9 L456.7 977.2 L457.5 981.7 L458.3 975.1 L459.2 970.9 L460 964.2 L460.8 967.5 L461.7 971.8 L462.5 975 L463.6 968.1 L464.7 963.3 L465.5 977.5 L466.3 989.2 L467.3 981.9 L468.3 976.7 L469.1 973.9 L470 973.3 L471.1 960.7 L472.2 946.7 L473.1 946.4 L474.1 948.3 L475 947.5 L475.8 948.8 L476.7 949.7 L477.5 951.7 L478.6 943.9 L479.7 938.3 L480.7 945.7 L481.7 951.7 L482.7 948.8 L483.7 946.7 L484.6 943.3 L485.4 941.6 L486.3 938.3 L487.1 946.8 L488 958.3 L488.9 966.1 L489.7 971.7 L490.8 977.5 L491.9 974.1 L493 968.3 L494 961.2 L495 953.3 L495.9 948.9 L496.7 946.7 L497.5 948.7 L498.4 948 L499.2 950 L500 947.1 L500.9 946.6 L501.7 943.3 L502.5 941.2 L503.4 937.4 L504.2 933.3 L505.3 940 L506.1 927.8 L507 915 L508.1 898.8 L509.2 883.3 L510 878.5 L510.8 872.5 L511.6 877.9 L512.5 880 L513.4 877.6 L514.2 876.7 L515 883.6 L515.8 890 L516.6 896.2 L517.5 900 L518.6 898.4 L519.7 895 L520.7 901.7 L521.7 908.3 L522.7 918.1 L523.7 930 L524.8 926.6 L525.8 921.7 L526.9 929.2 L528 936.7 L529 943.2 L530 946.7 L530.8 947.4 L531.7 950.3 L532.5 950 L533.4 951.3 L534.2 954.2 L535 951.7 L535.8 946.7 L536.6 941.4 L537.5 939.2 L538.6 945.2 L539.7 948.3 L540.7 957.3 L541.7 966.7 L542.7 962.9 L543.7 961.7 L544.4 968.1 L545 975 L546 968 L547 963.3 L548.1 969.4 L549.2 976.7 L550.2 973 L551.3 971.7 L552.1 979.7 L553 990 L554 987.3 L555 986.7 L555.9 986.4 L556.7 985 L557.4 992.1 L558 1001.7 L558.6 1007.8 L559.2 1015 L560 1008.1 L560.8 1001.7 L561.6 996.7 L562.5 990 L563.3 986.7 L564.2 985.7 L565 984.2 L566 981.6 L567 980 L568.1 982.9 L569.2 985 L570 979.7 L570.9 976.7 L571.7 971.7 L572.7 977.6 L573.7 983.3 L574.4 975.1 L575 966.7 L575.8 965.8 L576.7 963 L577.5 963.3 L578.4 958.5 L579.2 955 L580.3 940.8 L581.1 949.6 L582 958.3 L583.1 957 L584.2 955.8 L585 958.9 L585.8 960 L586.6 952.2 L587.5 945.8 L588.6 955.1 L589.7 961.7 L590.7 950.7 L591.7 941.7 L592.7 948.5 L593.7 956.7 L594.8 948.3 L595.8 938.3 L596.6 938.4 L597.5 940 L598.4 933.2 L599.2 925.8 L600 931.8 L600.8 936.7 L601.6 946.2 L602.5 956.7 L603.6 962.2 L604.7 970 L605.9 966.2 L607 960 L608.1 967.5 L609.2 973.3 L610 978.2 L610.8 983.3 L611.9 981.6 L613 978.3 L613.9 983.9 L614.9 988.8 L615.8 995.8 L616.6 988.6 L617.5 978.8 L618.3 971.7 L619.1 972.9 L620 971.4 L620.8 973.3 L621.6 979.7 L622.5 987.5 L623.3 980.7 L624.2 975.6 L625 968.3 L625.8 969.2 L626.7 973.6 L627.5 975 L628.6 976.8 L629.7 976.4 L630.8 976.7 L631.6 969.7 L632.5 963.3 L633.4 968.1 L634.2 970.8 L635.2 965.9 L636.3 959.2 L637.3 963.2 L638.2 963.6 L639.2 966.7 L640 969.6 L640.9 972.6 L641.7 976.7 L642.7 979.7 L643.7 985 L644.8 981.2 L645.8 976.7 L646.6 974.8 L647.5 972.5 L648.3 970 L649.1 971.6 L650 971 L650.8 971.7 L651.9 969.2 L653 968.3 L653.9 965.5 L654.7 964.2 L655.9 965.5 L657 966.7 L657.9 964.4 L658.8 962.6 L659.7 961.7 L660.5 966.8 L661.3 970.8 L662.3 967.2 L663.3 965 L664.1 965.1 L665 965.3 L665.8 966.7 L666.6 970.3 L667.5 973.1 L668.3 976.7 L669.1 978.5 L670 980.9 L670.8 984.2 L671.9 982 L673.1 977.9 L674.2 976.7 L675 978.5 L675.9 979.3 L676.7 979.2 L677.5 981.1 L678.3 984.2 L679.1 979.1 L680 976.7 L680.8 976.9 L681.7 974.5 L682.5 975 L683.6 984.9 L684.7 993.3 L685.7 987.8 L686.7 985 L687.5 983 L688.4 983.8 L689.2 983.3 L690.2 981.8 L691.2 979.6 L692.2 976.7 L693.2 980.5 L694.2 983.3 L695 982.7 L695.9 984.4 L696.7 985 L697.7 988.3 L698.7 990 L699.7 991.7 L700.6 991.5 L701.6 990.5 L702.5 990 L703.4 982.3 L704.2 975 L705 972.9 L705.8 971.7 L706.4 961.8 L707 951.7 L708.1 956.4 L709.2 958.3 L710.2 960.9 L711.3 961.7 L712.3 965.1 L713.3 969.2 L714.1 971.9 L715 972.3 L715.8 973.3 L716.6 974.2 L717.5 974.5 L718.3 975 L719.3 973.6 L720.3 971.7 L721.4 974.7 L722.5 980 L723.3 981.1 L724.2 984.5 L725 986.7 L725.8 988.4 L726.7 992.5 L727.5 994.2 L728.4 989.1 L729.2 985 L730.2 983.2 L731.3 983.3 L732.3 984.7 L733.2 984 L734.2 985.8 L735.3 988.4 L736.4 989.5 L737.5 992.5 L738.3 989.3 L739.2 987.2 L740 986.7 L740.8 985.2 L741.7 986.3 L742.5 985 L743.4 988.2 L744.2 991.7 L745 995.2 L745.8 999.2 L746.9 995.5 L748 993.3 L749 995.6 L750 999.2 L750.6 991.8 L751.3 983.3 L752.3 984.5 L753.2 985.4 L754.2 988.3 L755 986.2 L755.9 984.8 L756.7 984.2 L757.5 986.5 L758.3 988.3 L759.1 985.2 L760 980 L761 984.5 L762 989.2 L762.9 988.5 L763.8 988.2 L764.7 986.7 L765.7 991 L766.7 993.3 L767.5 995.9 L768.4 996.3 L769.2 997.5 L770 996.3 L770.9 993.2 L771.7 990 L772.5 993 L773.4 995.8 L774.2 998.3 L775 998.2 L775.9 999.4 L776.7 998.3 L777.5 1001.4 L778.3 1006.7 L779 1011.8 L779.7 1015.8 L780.5 1011 L781.3 1008.3 L782.1 1012.7 L783 1018.3 L783.6 1024.2 L784.3 1030.8 L785.3 1010 L786.4 1008.8 L787.5 1006.7 L788.3 1004.7 L789.2 1003.1 L790 1001.7 L790.8 999.5 L791.7 996.9 L792.5 993.3 L793.3 985.8 L794.2 980.9 L795 973.3 L795.6 957.5 L796.3 943.3 L796.9 927.3 L797.5 910 L798.3 900.8 L799.1 908.9 L800 918.3 L800.6 917.5 L801.3 915 L801.9 927.8 L802.5 938.3 L803.4 946.9 L804.2 953.3 L805.2 959.9 L806.3 965 L807.1 951.7 L808 937.5 L809 947.4 L810 960 L810.8 953.3 L811.7 944.1 L812.5 937.5 L813.6 949.2 L814.7 960 L815.7 957.2 L816.7 956.7 L817.7 947.7 L818.7 941.7 L819.5 951.7 L820.3 960 L821.2 960.3 L822.1 962.4 L823 963.3 L823.9 969.6 L824.7 973.3 L825.5 970.5 L826.3 970 L827.3 968.9 L828.3 970 L829 977.5 L829.7 983.3 L830.7 983.1 L831.7 985 L832.7 988.8 L833.7 990 L834.5 994.5 L835.3 996.7 L836.4 994 L837.5 989.2 L838.6 990.6 L839.7 993.3 L840.5 996.2 L841.3 1001.7 L842.3 994.9 L843.3 988.3 L844 982.8 L844.7 980 L845.7 985.9 L846.7 990 L847.5 993.6 L848.4 993.6 L849.2 996.7 L850.2 1001.5 L851.3 1005 L852.3 1006.8 L853.3 1010 L854.1 1005.4 L855 1000 L856 1004.9 L857 1007.5 L858 1009.8 L859 1012.1 L860 1013.3 L860.8 1011.4 L861.7 1012.6 L862.5 1010.8 L863.4 1002.6 L864.2 993.3 L865 979.7 L865.8 965.8 L866.6 970.2 L867.5 976.7 L868.4 984.2 L869.2 991.7 L870 978.8 L870.8 966.7 L871.9 970 L873 973.3 L873.9 951.7 L874.7 931.7 L875.9 928.8 L877 927.5 L878.1 932.7 L879.2 940 L880 946.3 L880.8 953.3 L881.8 956.6 L882.7 959.5 L883.7 963.3 L884.8 954.4 L885.8 948.3 L886.9 940.3 L888 931.7 L889 936.1 L890 940 L890.9 944 L891.7 950.8 L892.7 948.3 L893.7 946.7 L894.8 920.8 L895.8 892.5 L896.6 906.2 L897.5 922.3 L898.3 938.3 L899.1 930.6 L900 923.1 L900.8 913.3 L901.6 902.5 L902.5 893.3 L903.3 876.7 L904.2 868.3 L905 844.7 L905.8 823.3 L906.4 808.6 L907 790 L907.9 780.5 L908.7 775 L909.4 796.7 L910 818.3 L910.6 794.1 L911.3 766.7 L912.1 781.9 L913 795 L913.7 758.3 L914.8 785.6 L915.8 809.2 L916.6 788.2 L917.5 766.7 L918.4 784.2 L919.2 800 L920 782.8 L920.8 770 L921.6 780.8 L922.5 795 L923.1 775.9 L923.7 756.7 L924.7 738.3 L925.8 763.3 L926.4 783.1 L927 800 L927.6 834.9 L928.3 870 L929.3 851.6 L930.3 834.2 L931.2 838.7 L932.1 844.3 L933 846.7 L933.9 835.4 L934.7 826.7 L935.5 828.6 L936.3 831.7 L936.9 811.5 L937.5 794.2 L938.3 796.8 L939.2 794.6 L940 796.7 L940.9 802.3 L941.7 808.3 L942.5 807.3 L943.3 810 L944.1 824.3 L945 838.3 L946 839.9 L947 841.7 L947.9 837 L948.7 830 L949.8 833.1 L950.8 838.3 L951.6 846.1 L952.5 851.7 L953.4 853.9 L954.2 856.7 L955 845 L955.8 834.2 L956.6 855.1 L957.5 873.3 L958.5 881.8 L959.5 891.7 L960.4 883.3 L961.3 876.7 L961.9 871.8 L962.5 870 L963.4 869.6 L964.2 866.7 L965 847 L965.8 824.2 L966.6 829.1 L967.5 831.7 L968.6 838.3 L969.7 848.3 L970.8 815 L971.9 822.4 L973 830 L973.6 827.6 L974.2 823.3 L975 746.7 L975.9 714.5 L976.7 680.8 L977.4 706.3 L978 728.3 L979 715.5 L980 706.7 L980.6 677.8 L981.3 653.3 L982 640 L982.8 604 L983.7 619.5 L984.6 630 L984.7 536 L985.8 463 L986.4 430.9 L987 396.5 L987.7 396.5 L988.5 420.6 L989.2 448 L990 530 L990.6 508.9 L991.3 481.7 L991.9 481.1 L992.5 481.7 L993.3 568.5 L994 535.9 L994.7 505 L995.8 550 L996.4 527.2 L997 505 L997.6 489.9 L998.3 480.8 L999 480.3 L999.7 483.3 L1000.8 536.7 L1001.6 541.1 L1002.5 541.7 L1003.5 565 L1004.2 591.2 L1005 613.3 L1006 605.4 L1007 594.5 L1007.8 604.8 L1008.6 610 L1009.5 593.8 L1010.3 576.7 L1011.2 592.2 L1012.1 608.6 L1013 588.2 L1013.8 563.3 L1014.6 569.1 L1015.4 575.5 L1016.3 604.5 L1017.2 627.8 L1017.9 621.3 L1018.5 610 L1019.2 591.3 L1020 574.4 L1020.6 535.6 L1021.7 489.4 L1022.8 492.5 L1023.9 502 L1024.6 520.5 L1025.3 538 L1026 520.6 L1026.7 503.3 L1027.8 540 L1028.9 505 L1030 513.2 L1031.1 524.4 L1032.2 574.4 L1033.1 564.4 L1033.9 560 L1034.6 573.4 L1035.2 585 L1036 572 L1036.7 560 L1037.8 571 L1038.9 546.7 L1039.6 545.7 L1040.2 549 L1041.1 610 L1041.9 610 L1042.8 610 L1043.3 585.6 L1044 585.4 L1044.7 586 L1045.3 612" fill="none" stroke="#e8301f" stroke-width="3.8" stroke-linejoin="round" stroke-linecap="round"/>
<text transform="translate(155.3 1181.2) rotate(-45)" text-anchor="end" class="xl">2019-01-02</text>
<text transform="translate(193.1 1181.2) rotate(-45)" text-anchor="end" class="xl">2019-04-23</text>
<text transform="translate(231 1181.2) rotate(-45)" text-anchor="end" class="xl">2019-08-08</text>
<text transform="translate(268.8 1181.2) rotate(-45)" text-anchor="end" class="xl">2019-11-27</text>
<text transform="translate(306.6 1181.2) rotate(-45)" text-anchor="end" class="xl">2020-03-18</text>
<text transform="translate(344.4 1181.2) rotate(-45)" text-anchor="end" class="xl">2020-07-07</text>
<text transform="translate(382.3 1181.2) rotate(-45)" text-anchor="end" class="xl">2020-10-26</text>
<text transform="translate(420.1 1181.2) rotate(-45)" text-anchor="end" class="xl">2021-02-05</text>
<text transform="translate(457.9 1181.2) rotate(-45)" text-anchor="end" class="xl">2021-06-01</text>
<text transform="translate(495.8 1181.2) rotate(-45)" text-anchor="end" class="xl">2021-09-13</text>
<text transform="translate(533.6 1181.2) rotate(-45)" text-anchor="end" class="xl">2022-01-04</text>
<text transform="translate(571.4 1181.2) rotate(-45)" text-anchor="end" class="xl">2022-04-26</text>
<text transform="translate(609.3 1181.2) rotate(-45)" text-anchor="end" class="xl">2022-08-11</text>
<text transform="translate(647.1 1181.2) rotate(-45)" text-anchor="end" class="xl">2022-11-30</text>
<text transform="translate(684.9 1181.2) rotate(-45)" text-anchor="end" class="xl">2023-03-21</text>
<text transform="translate(722.8 1181.2) rotate(-45)" text-anchor="end" class="xl">2023-07-10</text>
<text transform="translate(760.6 1181.2) rotate(-45)" text-anchor="end" class="xl">2023-10-27</text>
<text transform="translate(798.4 1181.2) rotate(-45)" text-anchor="end" class="xl">2024-02-08</text>
<text transform="translate(836.2 1181.2) rotate(-45)" text-anchor="end" class="xl">2024-06-05</text>
<text transform="translate(874.1 1181.2) rotate(-45)" text-anchor="end" class="xl">2024-09-19</text>
<text transform="translate(911.9 1181.2) rotate(-45)" text-anchor="end" class="xl">2025-01-08</text>
<text transform="translate(949.7 1181.2) rotate(-45)" text-anchor="end" class="xl">2025-04-30</text>
<text transform="translate(987.6 1181.2) rotate(-45)" text-anchor="end" class="xl">2025-08-15</text>
<text transform="translate(1025.4 1181.2) rotate(-45)" text-anchor="end" class="xl">2025-12-04</text>
<text x="985.7" y="363" text-anchor="middle" class="vl">56.67</text>
</svg>
<div id="src" class="abs">资料来源：东方财富</div>
<div id="dots" class="abs"></div>
<div id="credit" class="abs">晚点 <span class="lp">LatePost</span> 制图</div>
</body>
</html>
